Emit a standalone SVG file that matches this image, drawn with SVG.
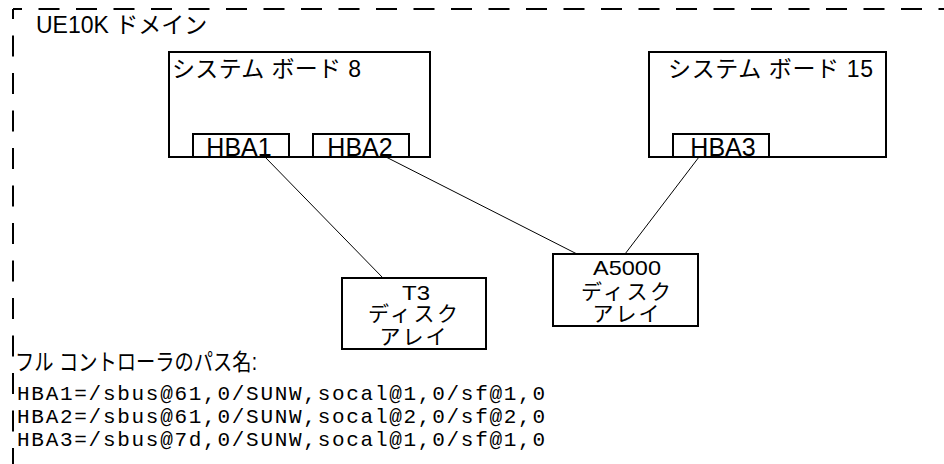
<svg xmlns="http://www.w3.org/2000/svg" width="944" height="464" viewBox="0 0 944 464">
<style>
  .bg{fill:#ffffff}
  .box{fill:#ffffff;stroke:#000000;stroke-width:2}
  .dash{fill:none;stroke:#000000;stroke-width:2;stroke-dasharray:21 16.5}
  .conn{fill:none;stroke:#000000;stroke-width:1}
  .t{font-family:"Liberation Sans","Noto Sans CJK JP",sans-serif;font-size:23px;fill:#000000}
  .h{font-size:25px}
  .s{font-size:21px}
  .c{text-anchor:middle}
  .m{font-family:"Liberation Mono","Courier New",monospace;font-size:21px;fill:#000000}
</style>
<rect class="bg" x="0" y="0" width="944" height="464"/>
<g id="domain">
  <path class="dash" d="M13,9 H944" stroke-dashoffset="12"/>
  <path class="dash" d="M13,9 V464" stroke-dashoffset="11"/>
  <text class="t" x="36" y="33">UE10K ドメイン</text>
</g>
<g id="connectors">
  <line class="conn" x1="265" y1="157" x2="383" y2="278"/>
  <line class="conn" x1="386" y1="157" x2="577" y2="254"/>
  <line class="conn" x1="699" y1="157" x2="625" y2="254"/>
</g>
<g id="board8">
  <rect class="box" x="169" y="52" width="261" height="105"/>
  <text class="t" x="172" y="77" textLength="189" lengthAdjust="spacing">システム ボード 8</text>
</g>
<g id="hba1">
  <rect class="box" x="193" y="134" width="96" height="23"/>
  <text class="t h c" x="239" y="156">HBA1</text>
</g>
<g id="hba2">
  <rect class="box" x="313" y="134" width="96" height="23"/>
  <text class="t h c" x="360" y="156">HBA2</text>
</g>
<g id="board15">
  <rect class="box" x="649" y="52" width="237" height="105"/>
  <text class="t" x="668" y="77" textLength="205" lengthAdjust="spacing">システム ボード 15</text>
</g>
<g id="hba3">
  <rect class="box" x="673" y="134" width="96" height="23"/>
  <text class="t h c" x="723" y="156">HBA3</text>
</g>
<g id="t3">
  <rect class="box" x="342" y="278" width="144" height="71"/>
  <text class="t s c" x="416" y="300" textLength="28" lengthAdjust="spacingAndGlyphs">T3</text>
  <text class="t s c" x="413" y="321" textLength="90" lengthAdjust="spacing">ディスク</text>
  <text class="t s c" x="413" y="344" textLength="67" lengthAdjust="spacing">アレイ</text>
</g>
<g id="a5000">
  <rect class="box" x="553" y="254" width="145" height="72"/>
  <text class="t s c" x="627" y="275" textLength="68" lengthAdjust="spacingAndGlyphs">A5000</text>
  <text class="t s c" x="626" y="299" textLength="90" lengthAdjust="spacing">ディスク</text>
  <text class="t s c" x="626" y="321" textLength="67" lengthAdjust="spacing">アレイ</text>
</g>
<g id="paths">
  <text class="t" x="15" y="370" font-size="20" textLength="242" lengthAdjust="spacingAndGlyphs">フル コントローラのパス名:</text>
  <text class="m" x="17" y="400" textLength="528" lengthAdjust="spacing">HBA1=/sbus@61,0/SUNW,socal@1,0/sf@1,0</text>
  <text class="m" x="17" y="423" textLength="528" lengthAdjust="spacing">HBA2=/sbus@61,0/SUNW,socal@2,0/sf@2,0</text>
  <text class="m" x="17" y="446" textLength="528" lengthAdjust="spacing">HBA3=/sbus@7d,0/SUNW,socal@1,0/sf@1,0</text>
</g>
</svg>
